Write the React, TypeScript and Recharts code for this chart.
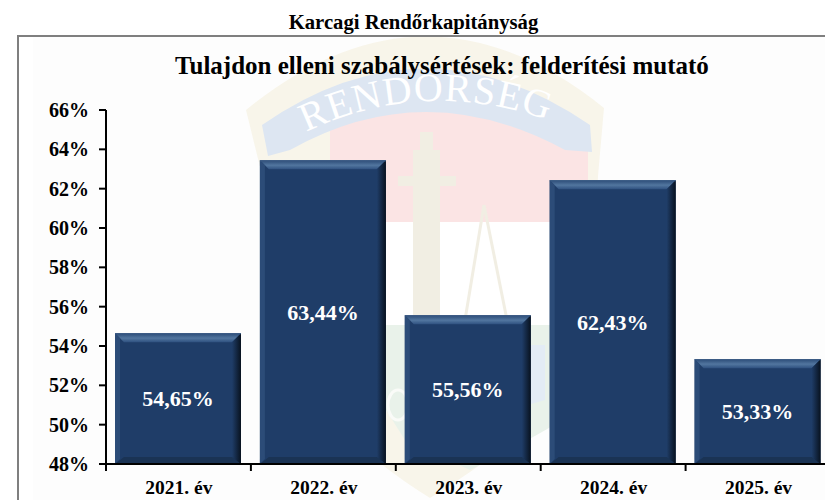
import { Bar, BarChart, LabelList, XAxis, YAxis } from "recharts";

const years = ["2021. év", "2022. év", "2023. év", "2024. év", "2025. év"];
const rates = [54.65, 63.44, 55.56, 62.43, 53.33];
const yTicks = [48, 50, 52, 54, 56, 58, 60, 62, 64, 66];

const data = years.map((year, i) => ({ year, rate: rates[i] }));

const serif = "'Liberation Serif', 'Times New Roman', serif";
const bandWidth = 144.9;

// bar with the bevel look of the original office chart
function BevelBar({ x, y, width, height }: any) {
  const b = 9;
  const r = x + width;
  const bottom = y + height;
  return (
    <g>
      <rect x={x} y={y} width={width} height={height} fill="#1F3D68" />
      <polygon
        points={`${x},${y} ${r},${y} ${r - b},${y + b} ${x + b},${y + b}`}
        fill="url(#bevelTop)"
      />
      <polygon
        points={`${r},${y} ${r},${bottom} ${r - b},${bottom - b + 4} ${r - b},${y + b}`}
        fill="url(#bevelRight)"
      />
      <polygon
        points={`${x},${y} ${x + 5},${y + 5} ${x + 5},${bottom - 5} ${x},${bottom}`}
        fill="#2C4C78"
      />
      <polygon
        points={`${x},${bottom} ${r},${bottom} ${r - 9},${bottom - 7} ${x + 9},${bottom - 7}`}
        fill="#1A3354"
      />
      <rect x={x} y={y} width={width} height={1} fill="#3F5F88" />
    </g>
  );
}

// ticks sit on the category borders, not in the middle of them
function YearTick({ x, y, payload }: any) {
  const left = x - bandWidth / 2;
  return (
    <g>
      <line x1={left} x2={left} y1={y} y2={y + 7} stroke="#000" strokeWidth={2} />
      <text
        x={x + 0.5}
        y={y + 30}
        textAnchor="middle"
        fontFamily={serif}
        fontWeight="bold"
        fontSize={19.5}
        fill="#000"
      >
        {payload.value}
      </text>
    </g>
  );
}

function Watermark() {
  return (
    <svg width={825} height={500} style={{ position: "absolute", left: 0, top: 0 }}>
      <defs>
        <path id="ribbonArc" d="M306 132 Q432 72 568 128" />
      </defs>
      <rect x={33} y={36} width={792} height={464} fill="#FDFDFD" />
      {/* shield */}
      <path
        d="M246 110 Q425 -36 604 108 L598 176 L592 330 Q560 420 430 498 Q320 430 270 330 L262 175 Z"
        fill="#F8F5EA"
      />
      <path d="M330 130 Q430 90 588 130 L588 222 L330 222 Z" fill="#FBE4E4" />
      <rect x={262} y={222} width={330} height={104} fill="#FFFFFF" />
      <path d="M386 325 L592 325 L592 400 Q560 425 470 470 L405 440 L386 410 Z" fill="#E9F2EA" />
      <path d="M531 345 L545 345 L545 400 L531 404 Z" fill="#E3ECF5" />
      <ellipse cx={398} cy={405} rx={10} ry={15} fill="none" stroke="#FAFBF8" strokeWidth={3} />
      {/* ribbon */}
      <path
        d="M262 125 Q425 12 590 125 L592 152 L565 150 Q425 74 290 150 L268 156 Z"
        fill="#DDE6F2"
      />
      {/* cross and scales */}
      <rect x={413} y={150} width={27} height={175} fill="#F1EEE3" />
      <rect x={420} y={132} width={13} height={30} fill="#F1EEE3" />
      <rect x={398} y={176} width={58} height={10} fill="#F1EEE3" />
      <path d="M484 205 L465 320 M484 205 L507 320" stroke="#F1EEE3" strokeWidth={3} fill="none" />
      <text fontFamily={serif} fontSize={40} fill="#FFFFFF" letterSpacing={1}>
        <textPath href="#ribbonArc">RENDŐRSÉG</textPath>
      </text>
    </svg>
  );
}

export default function App() {
  return (
    <div
      style={{
        position: "absolute",
        left: 0,
        top: 0,
        width: 825,
        height: 500,
        overflow: "hidden",
        background: "#fff",
        fontFamily: serif,
      }}
    >
      <Watermark />
      <div
        style={{
          position: "absolute",
          left: 17,
          top: 35,
          width: 900,
          height: 600,
          boxSizing: "border-box",
          border: "2px solid #7F7F7F",
        }}
      />
      <div
        style={{
          position: "absolute",
          left: 0,
          width: 827,
          top: 9,
          textAlign: "center",
          fontWeight: "bold",
          fontSize: 20.7,
          lineHeight: "26px",
        }}
      >
        Karcagi Rendőrkapitányság
      </div>
      <div
        style={{
          position: "absolute",
          left: 0,
          width: 884,
          top: 53,
          textAlign: "center",
          fontWeight: "bold",
          fontSize: 25,
          lineHeight: "26px",
        }}
      >
        Tulajdon elleni szabálysértések: felderítési mutató
      </div>
      <div style={{ position: "absolute", left: 0, top: 0 }}>
        <BarChart
          width={860}
          height={500}
          data={data}
          margin={{ top: 110, right: 29.5, bottom: 0, left: 0 }}
          barCategoryGap={0}
        >
          <defs>
            <linearGradient id="bevelTop" x1="0" y1="0" x2="0" y2="1">
              <stop offset="0%" stopColor="#2A4A76" />
              <stop offset="55%" stopColor="#52769F" />
              <stop offset="100%" stopColor="#2F5180" />
            </linearGradient>
            <linearGradient id="bevelRight" x1="0" y1="0" x2="1" y2="0">
              <stop offset="0%" stopColor="#1F3D68" />
              <stop offset="100%" stopColor="#08121F" />
            </linearGradient>
          </defs>
          <XAxis
            dataKey="year"
            height={36}
            interval={0}
            tick={<YearTick />}
            tickLine={false}
            tickSize={0}
            tickMargin={0}
            axisLine={{ stroke: "#000", strokeWidth: 2 }}
          />
          <YAxis
            width={106}
            domain={[48, 66]}
            ticks={yTicks}
            interval={0}
            tickSize={7}
            tickMargin={10}
            tickFormatter={(v) => `${v}%`}
            tick={{
              fill: "#000",
              fontFamily: serif,
              fontWeight: "bold",
              fontSize: 20,
            }}
            tickLine={{ stroke: "#000", strokeWidth: 2 }}
            axisLine={{ stroke: "#000", strokeWidth: 2 }}
          />
          <Bar dataKey="rate" barSize={126} shape={<BevelBar />} isAnimationActive={false}>
            <LabelList
              dataKey="rate"
              position="center"
              formatter={(v) => `${Number(v).toFixed(2).replace(".", ",")}%`}
              fill="#fff"
              fontFamily={serif}
              fontWeight="bold"
              fontSize={22}
            />
          </Bar>
        </BarChart>
      </div>
    </div>
  );
}
